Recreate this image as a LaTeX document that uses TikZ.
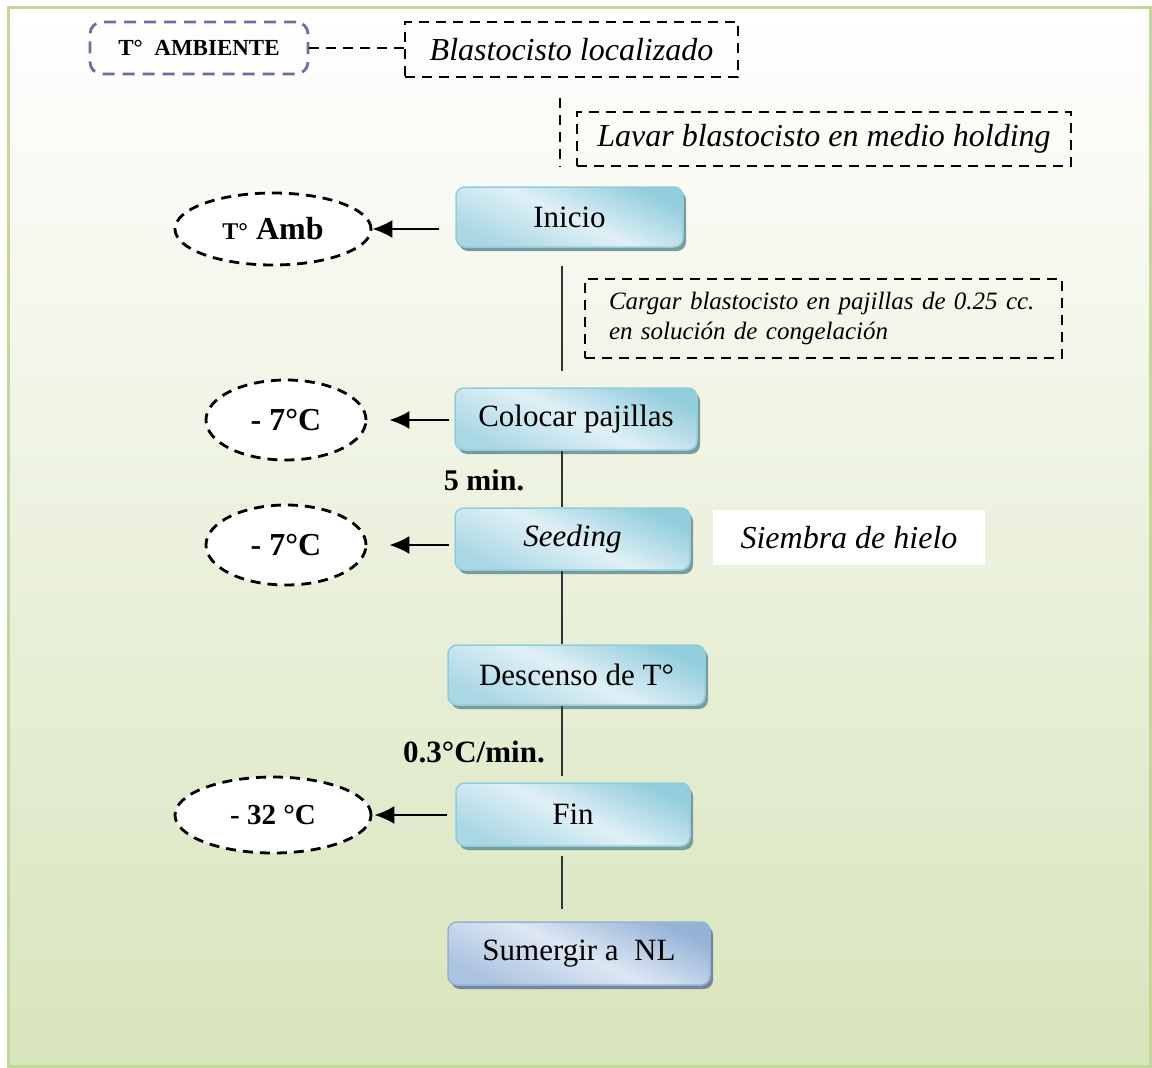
\documentclass[tikz,border=0pt]{standalone}
\usepackage{fontspec}
\setmainfont{Liberation Serif}
\usetikzlibrary{shapes.geometric,shadows,arrows.meta}

\definecolor{framegreen}{RGB}{195,214,155}
\definecolor{bggreen}{RGB}{216,228,188}
\definecolor{boxdark}{RGB}{146,205,220}
\definecolor{boxlight}{RGB}{224,240,246}
\definecolor{boxshadow}{RGB}{122,154,156}
\definecolor{sumdark}{RGB}{149,179,215}
\definecolor{sumlight}{RGB}{222,231,243}
\definecolor{sumshadow}{RGB}{118,134,158}
\definecolor{ambpurple}{RGB}{128,100,162}

\begin{document}
\begin{tikzpicture}[x=1pt,y=-1pt,
    basebox/.style={rounded corners=9pt,line width=1.5pt,minimum height=60pt,font=\boxfontsize},
    stepbox/.style={basebox,draw=boxdark,top color=boxdark,bottom color=boxdark!70!boxlight,middle color=boxlight,shading angle=-25,
        drop shadow={shadow xshift=3pt,shadow yshift=-4pt,fill=boxshadow,opacity=1}},
    sumbox/.style={basebox,draw=sumdark,top color=sumdark,bottom color=sumdark!70!sumlight,middle color=sumlight,shading angle=-25,
        drop shadow={shadow xshift=3pt,shadow yshift=-4pt,fill=sumshadow,opacity=1}},
    notebox/.style={draw,line width=2.8pt,dash pattern=on 10pt off 7pt,font=\notefontsize\itshape},
    notedash/.style={line width=2.8pt,dash pattern=on 10pt off 7pt},
    ambbox/.style={draw=ambpurple,line width=2.8pt,dash pattern=on 12pt off 8pt,rounded corners=12pt,font=\ambfontsize\bfseries},
    tempoval/.style={ellipse,draw,fill=white,line width=2.8pt,dash pattern=on 10pt off 7pt,inner sep=0pt,font=\tempfontsize\bfseries},
    spineline/.style={line width=2.2pt,black!80},
    temparrow/.style={line width=2pt,-{Latex[length=20pt,width=18pt]}}]
    \pgfmathsetmacro{\spinex}{562}
    \pgfmathsetmacro{\topspinex}{560}
    \providecommand{\boxfontsize}{\fontsize{31}{36}\selectfont}
    \providecommand{\notefontsize}{\fontsize{32}{36}\selectfont}
    \providecommand{\cargarfontsize}{\fontsize{25}{30}\selectfont}
    \providecommand{\ambfontsize}{\fontsize{23}{26}\selectfont}
    \providecommand{\tempfontsize}{\fontsize{32}{36}\selectfont}
    \providecommand{\labelfontsize}{\fontsize{31}{36}\selectfont}
    \fill[white] (0,0) rectangle (1152,1068);
    \useasboundingbox (0,0) rectangle (1152,1068);
    \fill[top color=white,bottom color=bggreen] (8,7) rectangle (1150,1066);
    \draw[framegreen,line width=3pt] (8,7) rectangle (1150,1066);
    % top notes
    \node[ambbox,minimum width=218pt,minimum height=52pt] (ambiente) at (199,48) {T°\ \ AMBIENTE};
    \node[notebox,minimum width=333pt,minimum height=55pt] (blasto) at (571.5,49.5) {Blastocisto localizado};
    \node[notebox,minimum width=494pt,minimum height=54pt] (lavar) at (824,139) {Lavar blastocisto en medio holding};
    \node[notebox,minimum width=477pt,minimum height=79pt,text width=457pt,inner xsep=10pt,align=left,font=\cargarfontsize\itshape] (cargar) at (823.5,318.5)
    {\hspace*{14pt}Cargar blastocisto en pajillas de 0.25 cc.\\\hspace*{14pt}en solución de congelación};
    % steps
    \node[stepbox,minimum width=227pt] (inicio) at (569.5,217) {Inicio};
    \node[stepbox,minimum width=242pt,minimum height=62pt] (colocar) at (576,419) {Colocar pajillas};
    \node[stepbox,minimum width=235pt,minimum height=62pt] (seeding) at (572.5,539) {\itshape Seeding};
    \node[stepbox,minimum width=257pt] (descenso) at (576.5,675) {Descenso de T°};
    \node[stepbox,minimum width=234pt,minimum height=63pt] (fin) at (573,814.5) {Fin};
    \node[sumbox,minimum width=262pt,minimum height=63pt] (sumergir) at (579,953.5) {Sumergir a\ \ NL};
    \node[fill=white,minimum width=272pt,minimum height=55pt,font=\notefontsize\itshape] (siembra) at (849,537.5) {Siembra de hielo};
    % temperatures
    \node[tempoval,minimum width=196pt,minimum height=72pt] (amb) at (273,229) {{\fontsize{24}{28}\selectfont T°} Amb};
    \node[tempoval,minimum width=160pt,minimum height=80pt] (colocartemp) at (286,420) {- 7°C};
    \node[tempoval,minimum width=160pt,minimum height=80pt] (seedingtemp) at (286,545) {- 7°C};
    \node[tempoval,minimum width=196pt,minimum height=76pt,font=\fontsize{29}{32}\selectfont\bfseries] (fintemp) at (273,815) {- 32 °C};
    \node[font=\fontsize{30}{34}\selectfont\bfseries] (cincomin) at (484,480) {5 min.};
    \node[font=\labelfontsize\bfseries] (rate) at (474,752) {0.3°C/min.};
    \coordinate (spine) at (\spinex,0);
    \coordinate (topspine) at (\topspinex,0);
    % connectors
    \draw[notedash] (ambiente.east) -- (ambiente.east -| blasto.west);
    \draw[notedash,shorten <=20pt,shorten >=19pt] (blasto.south -| topspine) -- (inicio.north -| topspine);
    \draw[spineline,shorten <=18pt,shorten >=16pt] (inicio.south -| spine) -- (colocar.north -| spine);
    \draw[spineline] (colocar.south -| spine) -- (seeding.north -| spine);
    \draw[spineline] (seeding.south -| spine) -- (descenso.north -| spine);
    \draw[spineline,shorten >=6pt] (descenso.south -| spine) -- (fin.north -| spine);
    \draw[spineline,shorten <=9pt,shorten >=12pt] (fin.south -| spine) -- (sumergir.north -| spine);
    \draw[temparrow,shorten <=16pt] (inicio.west |- amb.east) -- (amb.east);
    \draw[temparrow,shorten <=5pt,shorten >=22pt] (colocar.west |- colocartemp.east) -- (colocartemp.east);
    \draw[temparrow,shorten <=5pt,shorten >=22pt] (seeding.west |- seedingtemp.east) -- (seedingtemp.east);
    \draw[temparrow,shorten <=8pt,shorten >=2pt] (fin.west |- fintemp.east) -- (fintemp.east);
\end{tikzpicture}
\end{document}
